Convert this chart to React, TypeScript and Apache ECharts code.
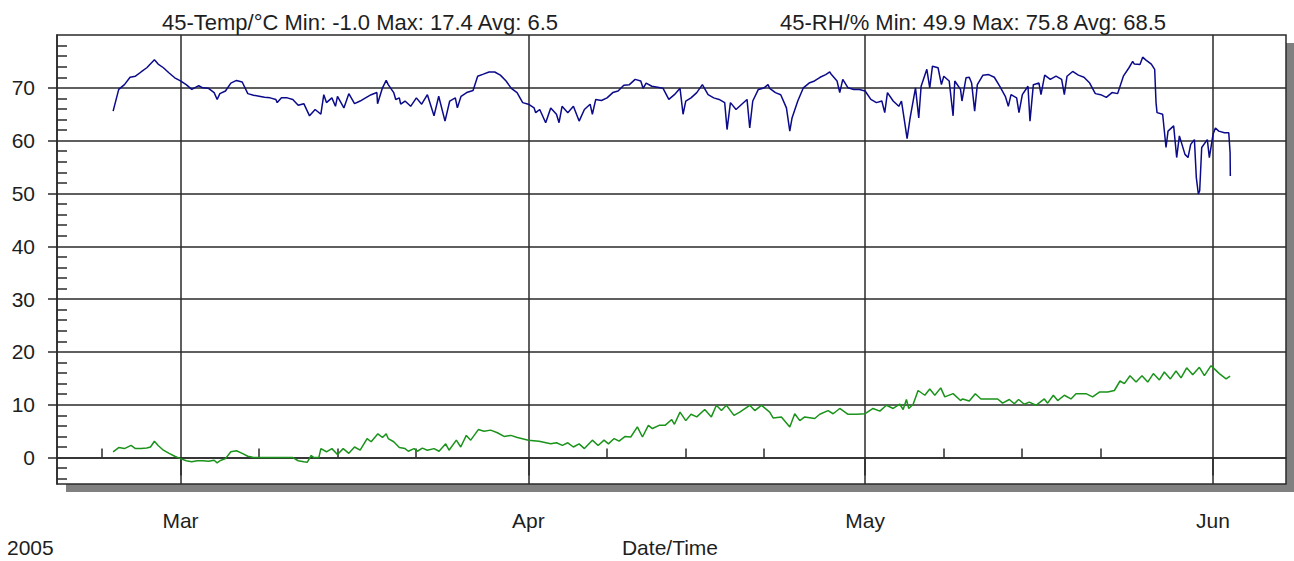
import React, { useEffect, useRef } from "react";
import * as echarts from "echarts";

// Days counted from 1 Mar 2005 00:00 (UTC)
const rhDays = [
  -6.0, -5.5, -4.99, -4.49, -4.01, -3.51, -3.0, -2.32, -1.99, -1.52,
  -1.01, -0.51, 0, 0.51, 1.01, 1.63, 1.99, 2.5, 3.0, 3.27,
  3.51, 4.01, 4.49, 4.99, 5.5, 6.0, 6.51, 7.01, 7.49, 7.99,
  8.5, 8.62, 9.0, 9.51, 10.01, 10.49, 10.99, 11.5, 12.0, 12.51,
  12.77, 13.01, 13.49, 13.81, 13.99, 14.56, 15.0, 15.51, 16.01, 16.49,
  16.99, 17.5, 17.56, 18.0, 18.33, 18.51,
  19.0, 19.18, 19.5, 19.62, 20.01, 20.51, 21.02, 21.49, 22.0, 22.59,
  23.01, 23.57, 23.99, 24.49, 24.67, 25.0, 25.5, 26.07, 26.48, 26.99,
  27.49, 28.0, 28.5, 29.01, 29.48, 29.99, 30.49, 31.0, 31.51, 31.65,
  32.01, 32.54, 32.99, 33.5, 33.73, 34.0, 34.51, 35.01, 35.52, 35.99,
  36.5, 36.7, 37.0, 37.51, 38.01, 38.52, 38.99, 39.5, 40.0, 40.51,
  41.01, 41.22, 41.49, 42.0, 42.5, 43.0, 43.51, 44.01,
  44.51, 44.78, 45.02, 45.49, 46.0, 46.5, 47.01, 47.51, 47.99, 48.49,
  48.7, 49.0, 49.5, 50.01, 50.48, 50.72, 50.99, 51.49, 52.0, 52.35,
  52.5, 53.01, 53.48, 53.99, 54.29, 54.49, 55.0, 55.5, 56.01, 56.49,
  56.99, 57.49, 57.85, 58.0, 58.5, 58.74, 59.01, 59.48, 59.99, 60.49,
  61.0, 61.51, 62.01, 62.49, 62.75, 62.99, 63.5, 64.0, 64.24, 64.51,
  64.74, 65.01, 65.49, 65.78, 65.99, 66.5, 66.76, 67.0, 67.5, 67.8,
  68.01, 68.49, 68.84, 68.99, 69.5,
  69.63, 69.99, 70.28, 70.49, 70.76, 71.0, 71.5, 72.01, 72.51, 72.99,
  73.49, 73.76, 74.0, 74.5, 74.71, 75.01, 75.51, 75.69, 75.99, 76.49,
  76.67, 77.0, 77.5, 78.01, 78.51, 78.75, 78.99, 79.49, 80.0, 80.5,
  81.01, 81.51, 81.99, 82.49, 83.0, 83.5, 84.01, 84.51, 84.84, 84.99,
  85.49, 85.73, 86.0, 86.5, 86.8, 86.92, 87.01, 87.51, 87.81, 87.99,
  88.49, 88.76, 89.0, 89.5, 89.77, 90.01, 90.34, 90.51, 90.69, 90.81,
  90.99, 91.49, 91.67, 92.0, 92.21, 92.51, 93.01, 93.4, 93.52, 93.54,
];
const rhValues = [
  65.6, 69.7, 70.6, 72.0, 72.2, 73.0, 73.8, 75.3, 74.5, 73.8,
  72.8, 71.9, 71.3, 70.6, 69.7, 70.4, 70.0, 69.9, 69.1, 67.8,
  68.9, 69.4, 70.9, 71.4, 71.1, 68.9, 68.6, 68.4, 68.2, 68.1,
  67.8, 67.2, 68.1, 68.1, 67.8, 66.7, 67.0, 64.7, 65.9, 65.0,
  68.7, 67.2, 68.1, 66.5, 68.4, 66.2, 68.9, 67.0, 67.5, 68.1,
  68.7, 69.1, 67.0, 70.0, 71.4, 70.6,
  69.1, 67.8, 68.1, 66.9, 67.5, 66.5, 68.1, 66.9, 68.7, 64.7,
  68.4, 63.7, 67.5, 68.1, 66.2, 68.4, 69.1, 69.5, 72.2, 72.6,
  73.0, 73.0, 72.4, 71.3, 69.9, 69.1, 67.2, 66.9, 66.2, 65.3,
  65.9, 63.4, 66.2, 65.0, 63.4, 66.5, 65.3, 66.5, 63.7, 65.9,
  66.9, 65.0, 67.8, 67.6, 68.1, 69.1, 69.4, 70.5, 70.6, 71.6,
  71.3, 69.9, 70.9, 70.3, 70.1, 69.9, 67.8, 68.7,
  69.9, 65.0, 67.5, 68.1, 69.1, 70.6, 68.7, 68.1, 67.8, 67.2,
  62.1, 67.2, 65.9, 66.9, 67.8, 62.4, 67.5, 69.7, 70.0, 70.6,
  69.9, 69.1, 68.7, 66.2, 61.8, 64.3, 67.5, 70.0, 70.9, 71.3,
  72.0, 72.5, 73.0, 72.5, 71.3, 69.1, 71.6, 70.0, 69.7, 69.7,
  69.4, 67.8, 67.2, 67.5, 65.3, 69.1, 67.5, 66.5, 67.5, 63.7,
  60.4, 64.3, 70.0, 64.3, 70.3, 73.5, 70.0, 74.1, 73.8, 70.6,
  72.2, 71.3, 64.7, 71.3, 69.7,
  67.5, 71.9, 72.0, 70.9, 65.6, 70.6, 72.4, 72.5, 72.0, 70.3,
  68.4, 66.5, 68.7, 68.1, 65.3, 68.7, 70.3, 63.7, 70.6, 70.9,
  68.7, 72.4, 71.6, 72.2, 71.6, 68.7, 72.2, 73.1, 72.4, 72.0,
  70.9, 68.9, 68.7, 68.2, 69.1, 68.9, 72.2, 73.8, 75.0, 74.5,
  74.4, 75.8, 75.3, 74.5, 73.5, 67.2, 65.3, 65.0, 58.7, 61.8,
  62.8, 56.8, 60.9, 57.4, 56.8, 59.3, 60.2, 53.0, 49.9, 50.5,
  58.7, 60.2, 56.8, 61.2, 62.4, 61.8, 61.5, 61.5, 57.7, 53.3,
];

const tempDays = [
  -6.0, -5.5, -4.99, -4.4, -4.01, -3.51, -3.0, -2.67, -2.32, -1.99,
  -1.52, -1.01, -0.51, 0, 0.51, 1.01, 1.49, 1.99, 2.5, 3.0,
  3.27, 3.51, 4.01, 4.49, 4.99, 5.5, 6.0, 6.51, 10.01, 10.49,
  10.99, 11.29, 11.65, 11.88, 12.33, 12.51, 13.01, 13.49, 13.99, 14.5,
  15.0, 15.51, 16.01, 16.63, 16.99, 17.59, 18.0, 18.33, 18.51,
  19.0, 19.5, 20.01, 20.3, 20.81, 21.11, 21.55, 22.0, 22.59, 23.04,
  23.63, 23.93, 24.58, 24.97, 25.47, 25.86, 26.54, 27.05, 27.64, 28.24,
  28.83, 29.43, 30.02, 31.0, 31.95, 32.99, 33.5, 34.03, 34.51, 35.01,
  35.52, 35.99, 36.7, 37.21, 37.74, 38.13, 38.64, 39.08, 39.62, 40.12,
  40.71, 41.16, 41.69, 42.05, 42.65, 43.18, 43.77, 44.01,
  44.51, 45.02, 45.49, 46.0, 46.71, 47.3, 47.75, 48.2, 48.64, 49.32,
  49.83, 50.72, 51.17, 51.76, 52.5, 52.8, 53.54, 54.29, 54.73, 55.18,
  55.62, 56.51, 56.96, 57.7, 58.15, 58.74, 59.48, 60.23, 61.0, 61.71,
  62.31, 62.9, 63.5, 64.09, 64.39, 64.68, 64.89, 65.28, 65.72, 66.32,
  66.76, 67.21, 67.74, 68.1, 68.84, 69.5,
  69.69, 70.28, 70.82, 71.32, 72.07, 72.81, 73.25, 73.85, 74.29, 74.68,
  75.18, 75.63, 76.22, 76.97, 77.26, 77.77, 78.16, 78.75, 79.34, 79.79,
  80.68, 81.27, 81.87, 82.61, 83.21, 83.71, 84.1, 84.6, 85.14, 85.67,
  86.18, 86.68, 87.22, 87.66, 88.2, 88.7, 89.15, 89.65, 90.19, 90.78,
  91.23, 91.82, 92.12, 92.56, 93.16, 93.52,
];
const tempValues = [
  1.1, 1.9, 1.7, 2.3, 1.7, 1.7, 1.8, 2.0, 3.1, 2.3,
  1.4, 0.8, 0.25, -0.2, -0.6, -0.8, -0.6, -0.6, -0.7, -0.5,
  -1.0, -0.6, -0.2, 1.1, 1.3, 0.8, 0.25, 0, 0, -0.6,
  -0.8, -0.9, 0.4, 0, 0, 1.7, 1.1, 1.7, 0.6, 1.7,
  0.8, 2.0, 1.4, 3.6, 3.0, 4.5, 3.8, 4.5, 3.6,
  3.0, 1.9, 1.7, 1.2, 1.7, 1.2, 1.8, 1.4, 1.7, 1.2,
  2.6, 1.4, 3.3, 2.0, 4.2, 3.3, 5.3, 5.0, 5.2, 4.7,
  4.0, 4.2, 3.8, 3.3, 3.1, 2.6, 2.8, 2.3, 2.8, 2.0,
  2.6, 1.7, 3.3, 2.3, 3.3, 2.6, 3.6, 3.1, 4.0, 3.9,
  5.8, 3.9, 6.1, 5.5, 6.1, 6.1, 7.2, 6.3,
  8.6, 7.0, 8.2, 7.7, 9.1, 7.7, 9.9, 8.9, 9.9, 8.0,
  8.6, 9.9, 8.9, 9.9, 8.6, 7.5, 7.7, 5.8, 8.3, 7.0,
  7.7, 7.4, 8.2, 8.9, 8.3, 9.3, 8.2, 8.2, 8.3, 9.3,
  8.8, 9.9, 9.3, 10.1, 9.1, 11.0, 9.3, 10.1, 12.7, 11.8,
  13.0, 11.8, 13.2, 11.5, 12.1, 10.8,
  11.1, 10.7, 12.1, 11.1, 11.1, 11.1, 10.3, 11.0, 10.2, 11.0,
  10.1, 10.5, 9.9, 11.1, 10.3, 11.8, 10.8, 11.8, 11.1, 12.1,
  12.1, 11.5, 12.4, 12.4, 12.7, 14.5, 14.0, 15.5, 14.3, 15.5,
  14.3, 15.9, 14.7, 16.2, 14.9, 16.4, 15.1, 17.0, 15.7, 17.1,
  15.5, 17.4, 16.8, 15.9, 14.9, 15.4,
];

const monthTicks = [[2005, 2, 1], [2005, 3, 1], [2005, 4, 1], [2005, 5, 1]];
const weekTicks = [
  [2005, 1, 22], [2005, 2, 8], [2005, 2, 15], [2005, 2, 22],
  [2005, 3, 8], [2005, 3, 15], [2005, 3, 22],
  [2005, 4, 8], [2005, 4, 15], [2005, 4, 22],
];
const yMajor = [0, 10, 20, 30, 40, 50, 60, 70];
const yMinor = [
  -4, -2, 2, 4, 6, 8, 12, 14, 16, 18, 22, 24, 26, 28, 32, 34, 36, 38,
  42, 44, 46, 48, 52, 54, 56, 58, 62, 64, 66, 68, 72, 74, 76, 78,
];
const monthNames = ["Jan", "Feb", "Mar", "Apr", "May", "Jun", "Jul", "Aug", "Sep", "Oct", "Nov", "Dec"];
const tempTitle = "45-Temp/°C Min: -1.0 Max: 17.4 Avg: 6.5";
const rhTitle = "45-RH/% Min: 49.9 Max: 75.8 Avg: 68.5";

const DAY = 86400000;
const BASE = Date.UTC(2005, 2, 1);
const X_MIN = Date.UTC(2005, 1, 18);
const X_MAX = Date.UTC(2005, 5, 7, 12);

const FONT = '"Liberation Sans", Arial, sans-serif';
const INK = "#2a2a2a";
const TXT = "#1e1e1e";

export default function App() {
  const ref = useRef<HTMLDivElement>(null);
  useEffect(() => {
    if (!ref.current) return;
    const chart = echarts.init(ref.current, undefined, { renderer: "svg" });
    const monthTs = monthTicks.map((t) => Date.UTC(t[0], t[1], t[2]));
    const weekTs = weekTicks.map((t) => Date.UTC(t[0], t[1], t[2]));
    const rhData = rhDays.map((d, i) => [BASE + d * DAY, rhValues[i]]);
    const tData = tempDays.map((d, i) => [BASE + d * DAY, tempValues[i]]);
    const line = { color: INK, width: 1.5 };
    const option: any = {
      animation: false,
      backgroundColor: "#ffffff",
      grid: {
        left: 57, top: 35, right: 8, bottom: 77,
        show: true, borderColor: INK, borderWidth: 1.5, backgroundColor: "transparent",
      },
      graphic: [
        { type: "rect", z: -10, shape: { x: 1286, y: 43, width: 8, height: 449 }, style: { fill: "#808080" } },
        { type: "rect", z: -10, shape: { x: 66, y: 484, width: 1228, height: 8 }, style: { fill: "#808080" } },
        { type: "text", x: 162, y: 22, style: { text: tempTitle, font: `22px ${FONT}`, fill: TXT, align: "left", verticalAlign: "middle" } },
        { type: "text", x: 780, y: 22, style: { text: rhTitle, font: `22px ${FONT}`, fill: TXT, align: "left", verticalAlign: "middle" } },
        { type: "text", x: 7, y: 547, style: { text: "2005", font: `21px ${FONT}`, fill: TXT, align: "left", verticalAlign: "middle" } },
        { type: "text", x: 670, y: 547, style: { text: "Date/Time", font: `21px ${FONT}`, fill: TXT, align: "center", verticalAlign: "middle" } },
      ],
      xAxis: [
        {
          type: "value", min: X_MIN, max: X_MAX, position: "bottom",
          axisLine: { show: true, lineStyle: line },
          axisTick: { show: true, customValues: monthTs, length: 18, inside: false, lineStyle: line },
          axisLabel: {
            show: true, customValues: monthTs, margin: 26,
            formatter: (v: number) => monthNames[new Date(v).getUTCMonth()],
            fontSize: 21, fontFamily: FONT, color: TXT,
          },
          splitLine: { show: true, lineStyle: line },
        },
        {
          type: "value", min: X_MIN, max: X_MAX, position: "bottom", offset: 0,
          axisLine: { show: false },
          axisTick: { show: true, customValues: weekTs, length: 9, inside: true, lineStyle: line },
          axisLabel: { show: false },
          splitLine: { show: false },
        },
      ],
      yAxis: [
        {
          type: "value", min: -5, max: 80, position: "left",
          axisLine: { show: true, lineStyle: line },
          axisTick: { show: true, customValues: yMajor, length: 9, inside: false, lineStyle: line },
          axisLabel: { show: true, customValues: yMajor, margin: 22, fontSize: 21, fontFamily: FONT, color: TXT },
          splitLine: { show: true, lineStyle: line },
        },
        {
          type: "value", min: -5, max: 80, position: "left", offset: 0,
          axisLine: { show: false },
          axisTick: { show: true, customValues: yMinor, length: 10, inside: true, lineStyle: line },
          axisLabel: { show: false },
          splitLine: { show: false },
        },
      ],
      series: [
        {
          type: "line", name: "45-RH/%", xAxisIndex: 0, yAxisIndex: 0,
          data: rhData, showSymbol: false, symbol: "none", clip: true,
          lineStyle: { color: "#0a0a8a", width: 1.5 }, z: 3,
        },
        {
          type: "line", name: "45-Temp/°C", xAxisIndex: 0, yAxisIndex: 0,
          data: tData, showSymbol: false, symbol: "none", clip: true,
          lineStyle: { color: "#1a931a", width: 1.5 }, z: 3,
        },
      ],
    };
    chart.setOption(option);
    return () => chart.dispose();
  }, []);
  return (
    <div
      ref={ref}
      style={{ position: "absolute", left: 0, top: 0, width: 1294, height: 561 }}
    />
  );
}
